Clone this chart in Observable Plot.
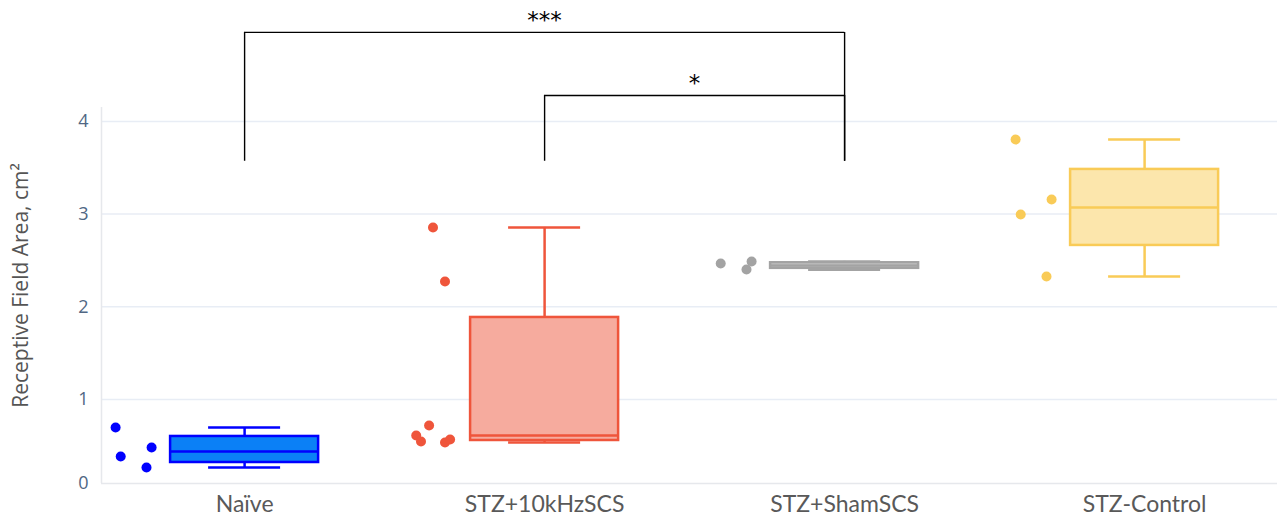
<!DOCTYPE html>
<html>
<head>
<meta charset="utf-8">
<script src="https://cdn.jsdelivr.net/npm/d3@7"></script>
<script src="https://cdn.jsdelivr.net/npm/@observablehq/plot@0.6"></script>
<style>
  html, body { margin: 0; padding: 0; background: #fff; }
  #chart svg { display: block; }
</style>
</head>
<body>
<div id="chart"></div>
<script>
// ---- data ----
const categories = ["Naïve", "STZ+10kHzSCS", "STZ+ShamSCS", "STZ-Control"];

const pointValues = [
  [0.667, 0.321, 0.429, 0.19],
  [2.856, 2.273, 0.69, 0.571, 0.5, 0.488, 0.524],
  [2.468, 2.489, 2.403],
  [3.805, 3.157, 2.996, 2.327]
];
// horizontal jitter of each point (in category units, left of the box)
const pointJitter = [
  [-0.43, -0.413, -0.31, -0.327],
  [-0.372, -0.332, -0.385, -0.428, -0.412, -0.332, -0.315],
  [-0.413, -0.31, -0.327],
  [-0.43, -0.31, -0.413, -0.327]
];

const boxLow    = [0.19, 0.488, 2.40, 2.327];
const boxQ1     = [0.25, 0.512, 2.415, 2.662];
const boxMedian = [0.381, 0.571, 2.445, 3.072];
const boxQ3     = [0.56, 1.885, 2.475, 3.482];
const boxHigh   = [0.667, 2.856, 2.49, 3.805];

const lineColors = ["#0000ff", "#ef553b", "#a3a3a3", "#f9cb57"];
const fillColors = ["#0b80f6", "#f6ab9e", "#cfcfcf", "#fce6ac"];

const yTicks = [0, 1, 2, 3, 4];
const gridTicks = [1, 2, 3, 4];

const bracketFrom   = [0, 1];
const bracketTo     = [2, 2];
const bracketTop    = [4.96, 4.28];
const bracketBottom = [3.57, 3.57];
const bracketLabels = ["***", "*"];

// ---- tables built from the arrays ----
const boxes = categories.map((c, i) => ({
  i, c, lo: boxLow[i], q1: boxQ1[i], med: boxMedian[i], q3: boxQ3[i], hi: boxHigh[i],
  line: lineColors[i], fill: fillColors[i]
}));
const points = pointValues.flatMap((vals, i) =>
  vals.map((v, k) => ({ x: i + pointJitter[i][k], y: v, color: lineColors[i] })));
const brackets = bracketFrom.map((f, k) => ({
  from: f, to: bracketTo[k], top: bracketTop[k], bottom: bracketBottom[k], label: bracketLabels[k]
}));

const BOX_HALF = 0.2467, CAP_HALF = 0.12;
const xDomain = [-0.477, 3.443];
const yTop = 4.15;

const chart = Plot.plot({
  width: 1277,
  height: 516,
  marginLeft: 101,
  marginRight: 0,
  marginTop: 107,
  marginBottom: 33,
  style: { fontFamily: "Open Sans", background: "#fff" },
  x: { type: "linear", domain: xDomain, axis: null },
  y: { type: "linear", domain: [0, 1, yTop], range: [483, 399, 107], axis: null },
  marks: [
    Plot.gridY(gridTicks, { stroke: "#e8edf5", strokeOpacity: 1, strokeWidth: 1.5 }),
    Plot.ruleY([0], { stroke: "#e6e8ec", strokeWidth: 1.5 }),
    Plot.ruleX([xDomain[0]], { y1: 0, y2: yTop, stroke: "#e6e8ec", strokeWidth: 1.5 }),
    // whiskers
    Plot.ruleX(boxes, { x: "i", y1: "q3", y2: "hi", stroke: "line", strokeWidth: 2.5 }),
    Plot.ruleX(boxes, { x: "i", y1: "lo", y2: "q1", stroke: "line", strokeWidth: 2.5 }),
    Plot.ruleY(boxes, { y: "hi", x1: d => d.i - CAP_HALF, x2: d => d.i + CAP_HALF, stroke: "line", strokeWidth: 2.5 }),
    Plot.ruleY(boxes, { y: "lo", x1: d => d.i - CAP_HALF, x2: d => d.i + CAP_HALF, stroke: "line", strokeWidth: 2.5 }),
    // boxes
    Plot.rect(boxes, { x1: d => d.i - BOX_HALF, x2: d => d.i + BOX_HALF, y1: "q1", y2: "q3",
      fill: "fill", stroke: "line", strokeWidth: 2.5 }),
    Plot.ruleY(boxes, { y: "med", x1: d => d.i - BOX_HALF, x2: d => d.i + BOX_HALF, stroke: "line", strokeWidth: 2.5 }),
    // points
    Plot.dot(points, { x: "x", y: "y", fill: "color", r: 5, stroke: "none" }),
    // significance brackets
    Plot.ruleX(brackets, { x: "from", y1: "bottom", y2: "top", stroke: "#000", strokeWidth: 1.4 }),
    Plot.ruleX(brackets, { x: "to", y1: "bottom", y2: "top", stroke: "#000", strokeWidth: 1.4 }),
    Plot.ruleY(brackets, { y: "top", x1: "from", x2: "to", stroke: "#000", strokeWidth: 1.4 }),
    Plot.text(brackets, { x: d => (d.from + d.to) / 2, y: "top", text: "label", dy: -4,
      lineAnchor: "bottom", fontSize: 23, fill: "#000", fontFamily: "DejaVu Sans" }),
    // axes
    Plot.axisY(yTicks, { tickSize: 0, tickPadding: 13, fontSize: 18, fill: "#506784", label: null,
      tickFormat: d3.format("d") }),
    Plot.axisX([0, 1, 2, 3], { tickFormat: i => categories[i], tickSize: 0, tickPadding: 12,
      fontSize: 23, fill: "#595959", fontFamily: "Lato", label: null }),
    Plot.text(["Receptive Field Area, cm²"], { frameAnchor: "left", textAnchor: "middle", rotate: -90,
      dx: -80, dy: -10, fontSize: 21, fill: "#555", fontFamily: "Open Sans" })
  ]
});
document.getElementById("chart").appendChild(chart);
</script>
</body>
</html>
